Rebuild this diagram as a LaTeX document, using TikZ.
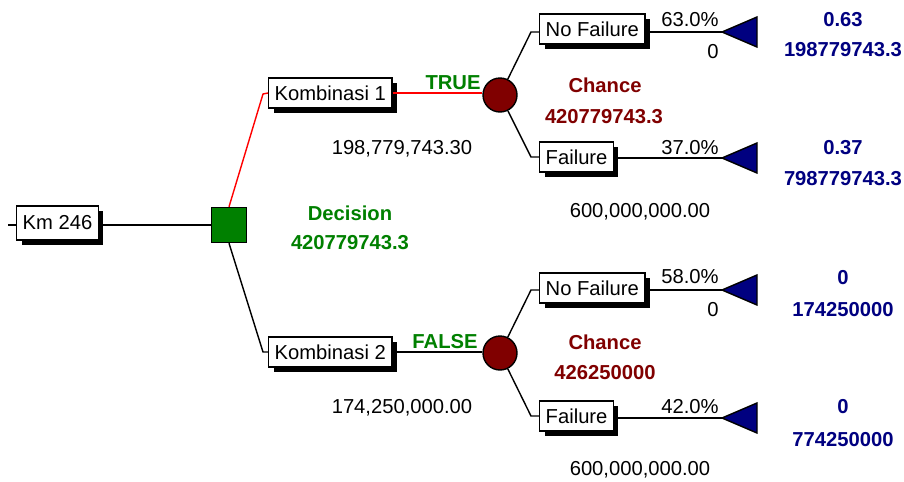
\documentclass[tikz,border=0pt]{standalone}
\usepackage{fontspec}
\setmainfont{Liberation Sans}
\usepackage{xcolor}
\usetikzlibrary{shadows, positioning}

\definecolor{decgreen}{RGB}{0,128,0}
\definecolor{chancered}{RGB}{128,0,0}
\definecolor{endblue}{RGB}{0,0,128}

\begin{document}
\begin{tikzpicture}[
    x=0.02cm, y=-0.02cm,
    font=\fontsize{11.5}{13}\selectfont,
    box/.style={draw, fill=white, line width=0.8pt, minimum height=0.6cm, inner xsep=0.12cm, inner ysep=0pt,
        general shadow={shadow xshift=0.1cm, shadow yshift=-0.1cm, fill=black}},
    branch/.style={line width=0.8pt},
    decision/.style={draw, fill=decgreen, minimum size=0.7cm, inner sep=0pt, line width=0.8pt},
    chance/.style={draw, circle, fill=chancered, minimum size=0.68cm, inner sep=0pt, line width=0.8pt},
    leaf/.style={draw, fill=endblue, line width=0.8pt},
    val/.style={font=\fontsize{11.5}{13}\selectfont\bfseries}
]
\useasboundingbox (0,0) rectangle (904,481);

% Root and decision
\coordinate (start) at (8,225);
\node[box, minimum height=0.68cm, anchor=west] (km) at (16,223) {Km 246};
\node[decision] (dec) at (229,225) {};
\draw[branch] (start) -- (km.west |- start);
\draw[branch] (km.east |- dec) -- (dec);
\node[val, text=decgreen] (dlabel) at (350,213) {Decision};
\node[val, text=decgreen] (dvalue) at (350,243) {420779743.3};

% Kombinasi 1
\node[box, anchor=west] (k1) at (268,93) {Kombinasi 1};
\coordinate (k1in) at (263,94);
\node[chance] (c1) at (500,95) {};
\draw[branch, red] (dec.north) -- (k1in) -- (k1.west);
\draw[branch, red] (k1.east) -- (c1.west |- k1.east);
\node[val, text=decgreen] (true) at (453,83) {TRUE};
\node (k1cost) at (402,149) {198,779,743.30};
\node[val, text=chancered] (c1label) at (605,85) {Chance};
\node[val, text=chancered] (c1value) at (604,117) {420779743.3};

% Kombinasi 1 - No Failure
\node[box, anchor=west] (nf1) at (539,29) {No Failure};
\coordinate (nf1in) at (531,32);
\coordinate (t1) at (722,32);
\draw[branch] (c1) -- (nf1in) -- (nf1.west |- t1);
\draw[branch] (nf1.east |- t1) -- (t1);
\draw[leaf] (t1) -- ++(35,-15) -- ++(0,30) -- cycle;
\node (p1) at (690,20) {63.0\%};
\node (v1) at (713,52) {0};
\node[val, text=endblue] (r1a) at (843,20) {0.63};
\node[val, text=endblue] (r1b) at (843,50) {198779743.3};

% Kombinasi 1 - Failure
\node[box, anchor=west] (f1) at (539,157) {Failure};
\coordinate (f1in) at (531,157);
\coordinate (t2) at (722,158);
\draw[branch] (c1) -- (f1in) -- (f1.west);
\draw[branch] (f1.east |- t2) -- (t2);
\draw[leaf] (t2) -- ++(35,-15) -- ++(0,30) -- cycle;
\node (p2) at (690,148) {37.0\%};
\node (v2) at (640,212) {600,000,000.00};
\node[val, text=endblue] (r2a) at (843,148) {0.37};
\node[val, text=endblue] (r2b) at (843,179) {798779743.3};

% Kombinasi 2
\node[box, anchor=west] (k2) at (268,352) {Kombinasi 2};
\coordinate (k2in) at (263,352);
\node[chance] (c2) at (500,353) {};
\draw[branch] (dec.south) -- (k2in) -- (k2.west);
\draw[branch] (k2.east) -- (c2.west |- k2.east);
\node[val, text=decgreen] (false) at (445,342) {FALSE};
\node (k2cost) at (402,408) {174,250,000.00};
\node[val, text=chancered] (c2label) at (605,342) {Chance};
\node[val, text=chancered] (c2value) at (605,373) {426250000};

% Kombinasi 2 - No Failure
\node[box, anchor=west] (nf2) at (539,288) {No Failure};
\coordinate (nf2in) at (531,290);
\coordinate (t3) at (722,290);
\draw[branch] (c2) -- (nf2in) -- (nf2.west |- t3);
\draw[branch] (nf2.east |- t3) -- (t3);
\draw[leaf] (t3) -- ++(35,-15) -- ++(0,30) -- cycle;
\node (p3) at (690,277) {58.0\%};
\node (v3) at (713,310) {0};
\node[val, text=endblue] (r3a) at (843,278) {0};
\node[val, text=endblue] (r3b) at (843,310) {174250000};

% Kombinasi 2 - Failure
\node[box, anchor=west] (f2) at (539,416) {Failure};
\coordinate (f2in) at (531,416);
\coordinate (t4) at (722,418);
\draw[branch] (c2) -- (f2in) -- (f2.west);
\draw[branch] (f2.east |- t4) -- (t4);
\draw[leaf] (t4) -- ++(35,-15) -- ++(0,30) -- cycle;
\node (p4) at (690,407) {42.0\%};
\node (v4) at (640,470) {600,000,000.00};
\node[val, text=endblue] (r4a) at (843,407) {0};
\node[val, text=endblue] (r4b) at (843,440) {774250000};
\end{tikzpicture}
\end{document}
